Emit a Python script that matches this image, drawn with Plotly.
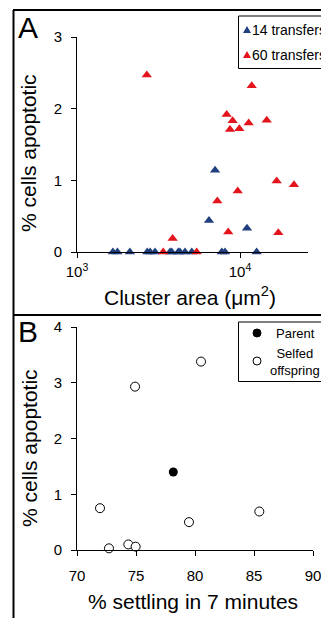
import plotly.graph_objects as go

# The page body adds an 8px margin; the figure fills the rest of the 329x618 window.
OFF = 8
W, H = 329 - OFF, 618 - OFF

# ---------------- Data: panel A ----------------
area_14 = [1660, 1770, 2110, 2700, 2810, 3010, 3720, 3810, 4180, 4280, 4600, 5060,
           7730, 8090, 12650, 7030, 6455, 11040]
apop_14 = [0, 0, 0, 0, 0, 0, 0, 0, 0, 0, 0, 0,
           0, 0, 0, 1.14, 0.44, 0.33]

area_60 = [2680, 11800, 8280, 9010, 8680, 9910, 11300, 14590, 16790, 21430, 9680,
           7260, 8470, 17180, 3860, 3380, 5420]
apop_60 = [2.47, 2.32, 1.92, 1.83, 1.71, 1.72, 1.80, 1.84, 0.99, 0.94, 0.85,
           0.71, 0.28, 0.27, 0.19, 0, 0]

# ---------------- Data: panel B ----------------
settle_parent = [78.16]
apop_parent = [1.40]
settle_selfed = [74.92, 80.51, 71.95, 72.71, 74.35, 74.97, 79.49, 85.45]
apop_selfed = [2.93, 3.38, 0.75, 0.03, 0.10, 0.06, 0.50, 0.69]

a_yticks = [0, 1, 2, 3]
a_xticks = [1000, 10000]
a_xticktext = ["10<sup>3</sup>", "10<sup>4</sup>"]
b_yticks = [0, 1, 2, 3, 4]
b_xticks = [70, 75, 80, 85, 90]

BLUE = "#1F3F7F"
RED = "#E3141B"
FONT = "Liberation Sans, Arial, sans-serif"


def px(x):
    return (x - OFF) / W


def py(y):
    return 1 - (y - OFF) / H


fig = go.Figure()

fig.add_trace(go.Scatter(x=area_14, y=apop_14, mode="markers", name="14 transfers",
                         marker=dict(symbol="triangle-up", size=9, color=BLUE),
                         xaxis="x", yaxis="y", cliponaxis=False, showlegend=False))
fig.add_trace(go.Scatter(x=area_60, y=apop_60, mode="markers", name="60 transfers",
                         marker=dict(symbol="triangle-up", size=9, color=RED),
                         xaxis="x", yaxis="y", cliponaxis=False, showlegend=False))
fig.add_trace(go.Scatter(x=settle_selfed, y=apop_selfed, mode="markers", name="Selfed offspring",
                         marker=dict(symbol="circle", size=9, color="white",
                                     line=dict(color="black", width=1)),
                         xaxis="x2", yaxis="y2", cliponaxis=False, showlegend=False))
fig.add_trace(go.Scatter(x=settle_parent, y=apop_parent, mode="markers", name="Parent",
                         marker=dict(symbol="circle", size=9, color="black"),
                         xaxis="x2", yaxis="y2", cliponaxis=False, showlegend=False))

axis_common = dict(showline=True, linecolor="black", linewidth=1, ticks="outside",
                   ticklen=5, tickcolor="black", tickwidth=1, showgrid=False,
                   zeroline=False, automargin=False,
                   tickfont=dict(family=FONT, size=15, color="black"))

fig.update_layout(
    width=W, height=H,
    margin=dict(l=0, r=0, t=0, b=0, pad=0, autoexpand=False),
    paper_bgcolor="white", plot_bgcolor="white",
    font=dict(family=FONT, color="black"),
    showlegend=False,
    xaxis=dict(domain=[px(77), px(308)], type="log", range=[3, 3 + 231 / 163],
               tickvals=a_xticks, ticktext=a_xticktext, anchor="y",
               ticklabelstandoff=1, **axis_common),
    yaxis=dict(domain=[py(252), py(37)], range=[0, 3], tickvals=a_yticks, anchor="x",
               ticklabelstandoff=6, **axis_common),
    xaxis2=dict(domain=[px(77), px(313)], range=[70, 90], tickvals=b_xticks, anchor="y2",
                ticklabelstandoff=7, **axis_common),
    yaxis2=dict(domain=[py(550), py(327)], range=[0, 4], tickvals=b_yticks, anchor="x2",
                ticklabelstandoff=6, **axis_common),
)

ann = []
# panel letters
ann.append(dict(text="A", x=px(28), y=py(27), font=dict(size=30)))
ann.append(dict(text="B", x=px(28), y=py(332), font=dict(size=30)))
# axis titles
ann.append(dict(text="% cells apoptotic", x=px(29), y=py(153), textangle=-90, font=dict(size=21)))
ann.append(dict(text="Cluster area (μm<sup>2</sup>)", x=px(190), y=py(296), font=dict(size=21)))
ann.append(dict(text="% cells apoptotic", x=px(29), y=py(448), textangle=-90, font=dict(size=21)))
ann.append(dict(text="% settling in 7 minutes", x=px(193), y=py(601), font=dict(size=21)))
# legend A texts
ann.append(dict(text="14 transfers", x=px(251), y=py(30), xanchor="left", font=dict(size=14)))
ann.append(dict(text="60 transfers", x=px(251), y=py(55), xanchor="left", font=dict(size=14)))
# legend B texts
ann.append(dict(text="Parent", x=px(295), y=py(333), font=dict(size=13)))
ann.append(dict(text="Selfed<br>offspring", x=px(295), y=py(362), font=dict(size=13)))

for a in ann:
    a.setdefault("xanchor", "center")
    a.update(xref="paper", yref="paper", yanchor="middle", showarrow=False, borderpad=0)
    a["font"] = dict(family=FONT, color="black", **a["font"])
    fig.add_annotation(**a)

shapes = []
# frame lines
shapes.append(dict(type="line", x0=px(13.5), x1=px(13.5), y0=py(10), y1=py(618),
                   line=dict(color="black", width=2)))
shapes.append(dict(type="line", x0=px(13), x1=px(329), y0=py(10), y1=py(10),
                   line=dict(color="black", width=2)))
shapes.append(dict(type="line", x0=px(13), x1=px(329), y0=py(315), y1=py(315),
                   line=dict(color="black", width=2)))
# legend boxes
shapes.append(dict(type="rect", x0=px(238.5), x1=px(340), y0=py(68.5), y1=py(16),
                   line=dict(color="black", width=1)))
shapes.append(dict(type="rect", x0=px(238.5), x1=px(328.5), y0=py(381.5), y1=py(322),
                   line=dict(color="black", width=1)))
# legend symbols
tri = "M-4,-3 L4,-3 L0,4 Z"
shapes.append(dict(type="path", xsizemode="pixel", ysizemode="pixel",
                   xanchor=px(247), yanchor=py(30), path=tri,
                   fillcolor=BLUE, line=dict(width=0)))
shapes.append(dict(type="path", xsizemode="pixel", ysizemode="pixel",
                   xanchor=px(247), yanchor=py(55), path=tri,
                   fillcolor=RED, line=dict(width=0)))
shapes.append(dict(type="circle", xsizemode="pixel", ysizemode="pixel",
                   xanchor=px(257), yanchor=py(333), x0=-4, x1=4, y0=-4, y1=4,
                   fillcolor="black", line=dict(color="black", width=1)))
shapes.append(dict(type="circle", xsizemode="pixel", ysizemode="pixel",
                   xanchor=px(257), yanchor=py(361), x0=-4, x1=4, y0=-4, y1=4,
                   fillcolor="white", line=dict(color="black", width=1)))
for s in shapes:
    s.update(xref="paper", yref="paper")
    fig.add_shape(**s)

fig.write_html("out.html")
